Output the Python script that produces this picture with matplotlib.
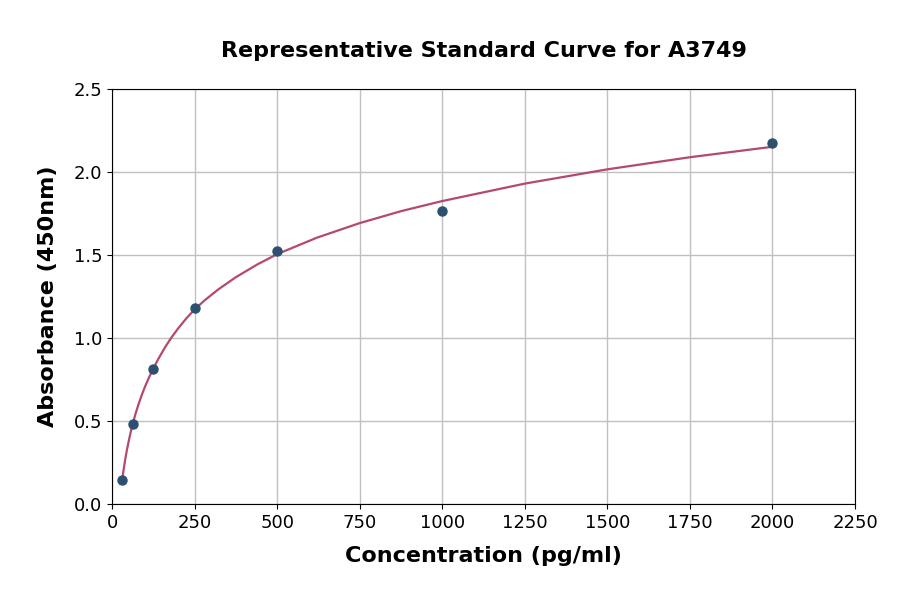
import matplotlib
matplotlib.use("Agg")
import matplotlib.pyplot as plt

# standard points
conc = [31.25, 62.5, 125, 250, 500, 1000, 2000]
absorb = [0.145, 0.482, 0.815, 1.183, 1.522, 1.765, 2.176]

# fitted curve
curve_x = [31.25, 35, 40, 45, 52, 57, 62.5, 70, 80, 90, 100, 112, 125, 140, 160,
           180, 200, 225, 250, 280, 320, 374, 440, 500, 620, 750, 875, 1000,
           1250, 1500, 1750, 2000]
curve_y = [0.15, 0.204, 0.268, 0.324, 0.392, 0.436, 0.48, 0.535, 0.599, 0.656,
           0.707, 0.762, 0.815, 0.873, 0.942, 1.003, 1.057, 1.118, 1.172, 1.226,
           1.29, 1.365, 1.443, 1.505, 1.604, 1.692, 1.764, 1.825, 1.93, 2.016,
           2.089, 2.152]

fig = plt.figure(figsize=(9, 5.94), dpi=100)
ax = fig.add_axes([112 / 900, 1 - 504 / 594, 743 / 900, 415 / 594])

ax.plot(curve_x, curve_y, color="#b5496d", lw=1.6, zorder=2)
ax.plot(conc, absorb, "o", color="#2d4f72", ms=6.5, zorder=3)

ax.set_xlim(0, 2250)
ax.set_ylim(0, 2.5)
ax.set_xticks(range(0, 2251, 250))
ax.set_yticks([0, 0.5, 1.0, 1.5, 2.0, 2.5])
ax.grid(True, color="#c0c0c0", lw=1)
ax.set_axisbelow(True)
ax.tick_params(labelsize=13)

ax.set_title("Representative Standard Curve for A3749", fontsize=16, fontweight="bold", pad=23)
ax.set_xlabel("Concentration (pg/ml)", fontsize=16, fontweight="bold", labelpad=10)
ax.set_ylabel("Absorbance (450nm)", fontsize=16, fontweight="bold", labelpad=11)

fig.savefig("out.png", dpi=100)
